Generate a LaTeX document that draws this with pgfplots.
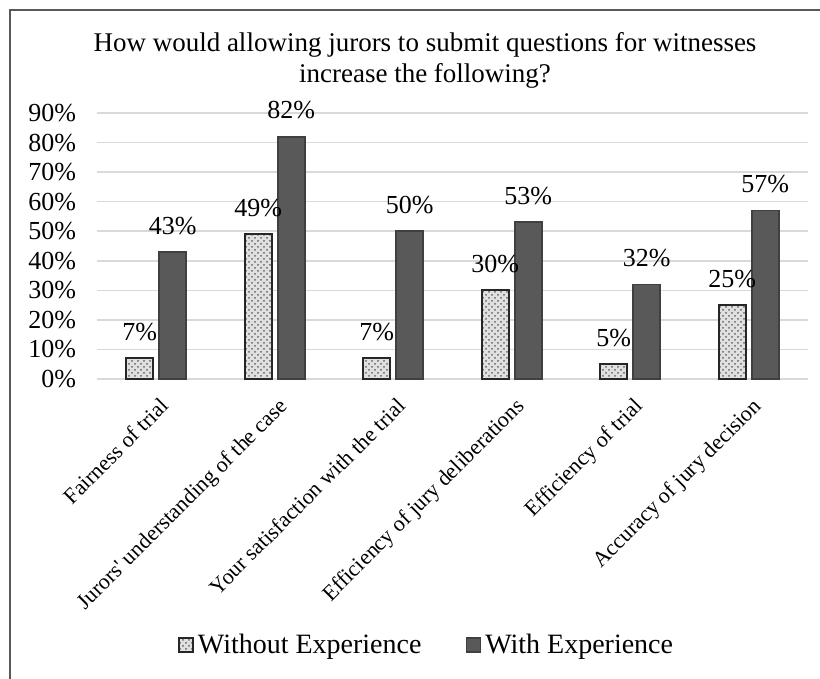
\documentclass[border=0pt]{standalone}
\usepackage{pgfplots}
\pgfplotsset{compat=1.18}
\usepackage{fontspec}
\setmainfont{Liberation Serif}
\usetikzlibrary{patterns}

\definecolor{withexp}{HTML}{595959}
\definecolor{gridgray}{HTML}{D9D9D9}

\begin{document}
\begin{tikzpicture}
% frame (1 px of the reference = 0.5 pt)
\useasboundingbox (0pt,0pt) rectangle (410pt,-339.5pt);
\draw[line width=1.1pt, black!65] (5pt,-339.5pt) -- (5pt,-5pt) -- (412pt,-5pt);

\node[align=center, font=\fontsize{13.5}{15.5}\selectfont] at (212.5pt,-30pt)
  {How would allowing jurors to submit questions for witnesses\\increase the following?};

\begin{axis}[
    at={(48.5pt,-189.5pt)}, anchor=south west,
    scale only axis,
    width=355.5pt, height=133pt,
    ymin=0, ymax=90,
    xmin=-0.5, xmax=5.5,
    ytick={0,10,...,90},
    yticklabel={\pgfmathprintnumber{\tick}\%},
    /pgf/number format/assume math mode=true,
    xtick=data,
    xticklabels={Fairness of trial,
                 Jurors\textquotesingle\ understanding of the case,
                 Your satisfaction with the trial,
                 Efficiency of jury deliberations,
                 Efficiency of trial,
                 Accuracy of jury decision},
    x tick label style={rotate=45, anchor=north east, inner sep=1pt,
                        yshift=-6pt, xshift=-4pt,
                        font=\fontsize{11}{13}\selectfont},
    y tick label style={font=\fontsize{13}{15}\selectfont, xshift=-7pt},
    major tick length=0pt,
    axis line style={draw=none},
    ymajorgrids=true,
    grid style={gridgray, line width=0.8pt},
    ybar, bar width=13.5pt,
    nodes near coords={\pgfmathprintnumber{\pgfplotspointmeta}\%},
    every node near coord/.append style={font=\fontsize{13}{15}\selectfont, yshift=5pt},
    legend style={at={(0.465,-1.0)}, anchor=center, draw=none,
                  legend columns=2, font=\fontsize{14}{16}\selectfont,
                  /tikz/every even column/.append style={column sep=20pt}},
    legend image code/.code={\draw[#1] (0pt,-3.5pt) rectangle (7pt,3.5pt);},
    legend cell align=left,
]
\addplot[bar shift=-8.25pt, draw=black!85, line width=0.9pt, fill=black!12,
         postaction={pattern=crosshatch dots, pattern color=black!60}]
  coordinates {(0,7) (1,49) (2,7) (3,30) (4,5) (5,25)};
\addlegendentry{Without Experience}
\addplot[bar shift=8.25pt, draw=black!75, line width=0.9pt, fill=withexp]
  coordinates {(0,43) (1,82) (2,50) (3,53) (4,32) (5,57)};
\addlegendentry{With Experience}
\end{axis}
\end{tikzpicture}
\end{document}
